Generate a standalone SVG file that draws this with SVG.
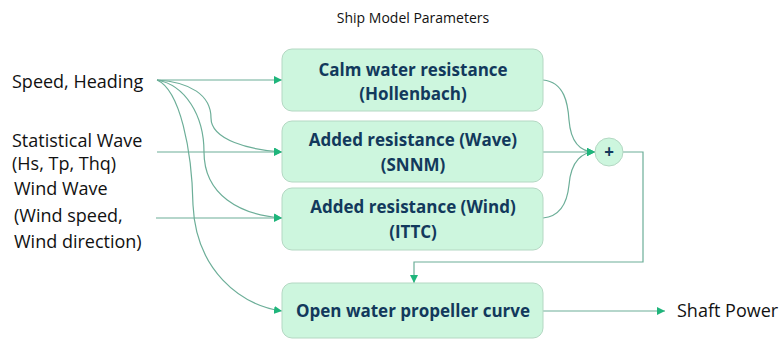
<svg xmlns="http://www.w3.org/2000/svg" width="780" height="340" viewBox="0 0 780 340">
  <style>
    .box { fill: #cdf6de; stroke: #b4d8c3; stroke-width: 1; }
    .btxt { font-family: "Open Sans", "Liberation Sans", sans-serif; font-weight: bold; font-size: 17px; fill: #12395c; text-anchor: middle; }
    .ltxt { font-family: "Open Sans", "Liberation Sans", sans-serif; font-size: 18px; fill: #111; }
    .title { font-family: "Open Sans", "Liberation Sans", sans-serif; font-size: 14px; fill: #111; text-anchor: middle; }
    .conn { fill: none; stroke: #6cae98; stroke-width: 1.2; }
  </style>
  <defs>
    <marker id="arrow" viewBox="0 0 10 10" refX="10" refY="5" markerWidth="8" markerHeight="8" markerUnits="userSpaceOnUse" orient="auto">
      <path d="M0,0 L10,5 L0,10 z" fill="#1fb57b"/>
    </marker>
  </defs>
  <rect width="780" height="340" fill="#ffffff"/>

  <text x="413" y="23" class="title">Ship Model Parameters</text>

  <!-- input labels -->
  <g id="in-speed"><text x="12" y="88" class="ltxt">Speed, Heading</text></g>
  <g id="in-wave">
    <text x="12" y="147" class="ltxt">Statistical Wave</text>
    <text x="12" y="170" class="ltxt">(Hs, Tp, Thq)</text>
  </g>
  <g id="in-wind">
    <text x="14" y="195" class="ltxt">Wind Wave</text>
    <text x="14" y="222" class="ltxt">(Wind speed,</text>
    <text x="14" y="248" class="ltxt">Wind direction)</text>
  </g>
  <g id="out-power"><text x="677" y="317" class="ltxt">Shaft Power</text></g>

  <!-- connectors -->
  <g id="connectors">
    <path class="conn" d="M157,80 L282,80" marker-end="url(#arrow)"/>
    <path class="conn" d="M157,80 C190,82 211,95 211,118 C211,140 250,150 282,152" marker-end="url(#arrow)"/>
    <path class="conn" d="M157,80 C185,85 204,115 204,152 C204,195 240,215 282,218" marker-end="url(#arrow)"/>
    <path class="conn" d="M157,80 C180,90 192,150 193,205 C196,270 240,305 282,311" marker-end="url(#arrow)"/>
    <path class="conn" d="M157,152 L282,152" marker-end="url(#arrow)"/>
    <path class="conn" d="M156,218 L282,218" marker-end="url(#arrow)"/>
    <path class="conn" d="M543,80 C565,82 568,105 569,120 C571,145 583,152 595,152" marker-end="url(#arrow)"/>
    <path class="conn" d="M543,152 L595,152" marker-end="url(#arrow)"/>
    <path class="conn" d="M543,218 C565,216 568,195 569,185 C571,160 583,152 595,152" marker-end="url(#arrow)"/>
    <path class="conn" d="M623,152 L643,152 L643,262 L414,262 L414,283" marker-end="url(#arrow)"/>
    <path class="conn" d="M543,311 L665,311" marker-end="url(#arrow)"/>
  </g>

  <!-- model blocks -->
  <g id="calm">
    <rect class="box" x="282" y="49" width="261" height="62" rx="10"/>
    <text x="413" y="76" class="btxt">Calm water resistance</text>
    <text x="413" y="100" class="btxt">(Hollenbach)</text>
  </g>
  <g id="wave">
    <rect class="box" x="282" y="121" width="261" height="61" rx="10"/>
    <text x="413" y="146" class="btxt">Added resistance (Wave)</text>
    <text x="413" y="171" class="btxt">(SNNM)</text>
  </g>
  <g id="wind">
    <rect class="box" x="282" y="188" width="261" height="62" rx="10"/>
    <text x="413" y="213" class="btxt">Added resistance (Wind)</text>
    <text x="413" y="238" class="btxt">(ITTC)</text>
  </g>
  <g id="propeller">
    <rect class="box" x="282" y="283" width="261" height="55" rx="10"/>
    <text x="413" y="317" class="btxt">Open water propeller curve</text>
  </g>
  <g id="sum">
    <circle class="box" cx="609" cy="152" r="14"/>
    <text x="609" y="158" class="btxt">+</text>
  </g>
</svg>
